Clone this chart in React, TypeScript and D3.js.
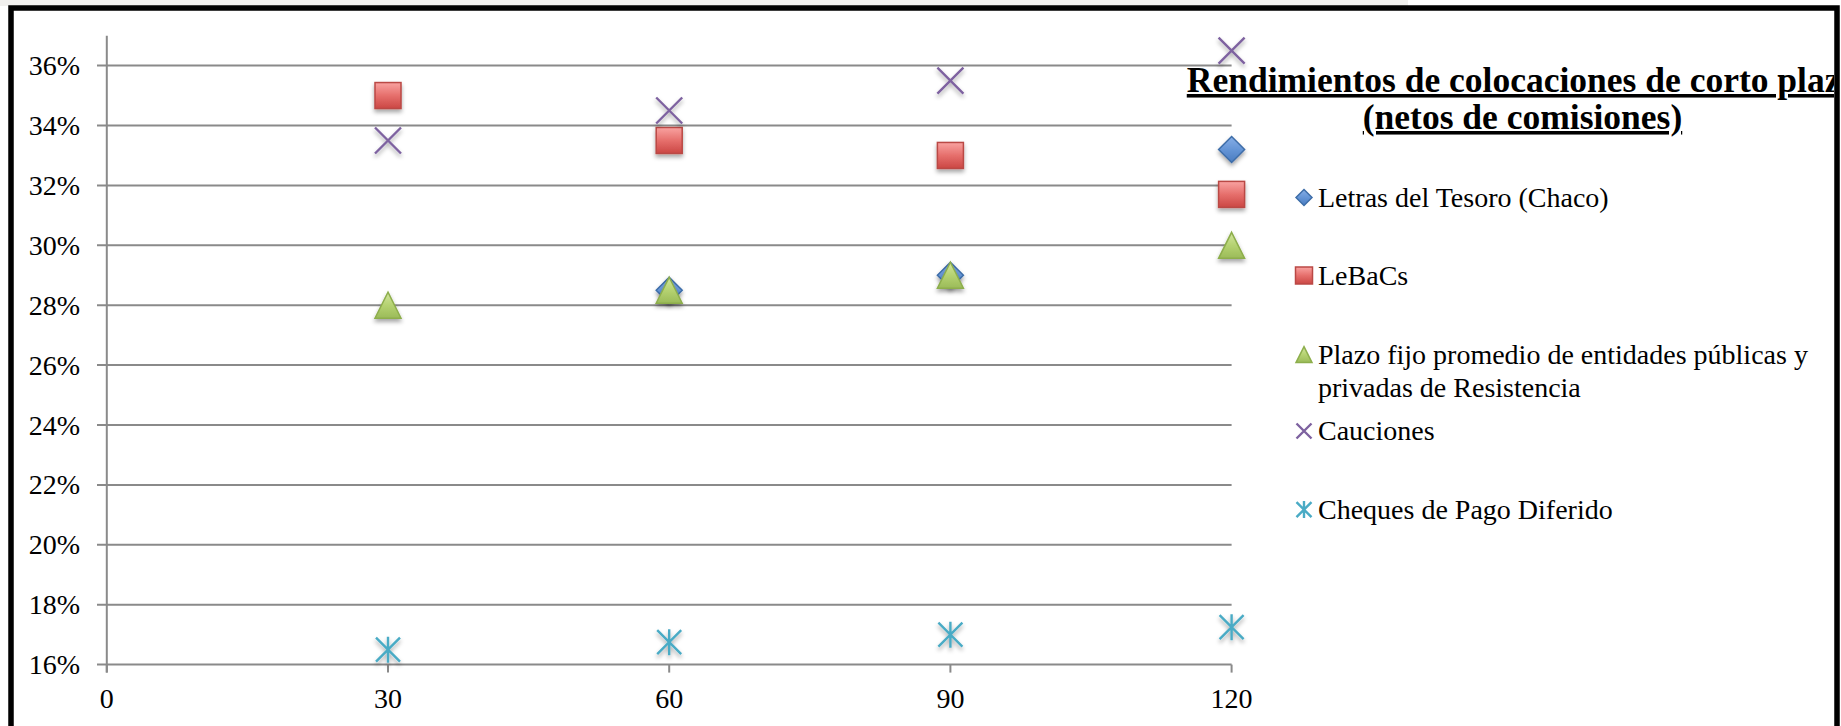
import React from "react";
import * as d3 from "d3";

const days = [30, 60, 90, 120];
const letras: (number | null)[] = [null, 0.285, 0.29, 0.332];
const lebacs = [0.35, 0.335, 0.33, 0.317];
const plazoFijo = [0.28, 0.285, 0.29, 0.3];
const cauciones = [0.335, 0.345, 0.355, 0.365];
const cheques = [0.165, 0.1675, 0.17, 0.1725];

const yTicks = [0.16, 0.18, 0.2, 0.22, 0.24, 0.26, 0.28, 0.3, 0.32, 0.34, 0.36];
const xTicks = [0, 30, 60, 90, 120];
const titleLines = ["Rendimientos de colocaciones de corto plazo", "(netos de comisiones)"];
const legendLabels = [
  ["Letras del Tesoro (Chaco)"],
  ["LeBaCs"],
  ["Plazo fijo promedio de entidades públicas y", "privadas de Resistencia"],
  ["Cauciones"],
  ["Cheques de Pago Diferido"],
];

const W = 1841;
const H = 726;
const FONT = "'Liberation Serif', 'Times New Roman', serif";

type Kind = "diamond" | "square" | "triangle" | "x" | "star";

function Marker({ kind, cx, cy, s, shadow }: { kind: Kind; cx: number; cy: number; s: number; shadow?: boolean }) {
  const h = s / 2;
  const f = shadow ? "url(#shadow)" : undefined;
  if (kind === "diamond") {
    return (
      <path
        d={`M${cx},${cy - h}L${cx + h},${cy}L${cx},${cy + h}L${cx - h},${cy}Z`}
        fill="url(#gBlue)"
        stroke="#3D6DA8"
        strokeWidth={1.5}
        filter={f}
      />
    );
  }
  if (kind === "square") {
    return (
      <rect
        x={cx - h}
        y={cy - h}
        width={s}
        height={s}
        fill="url(#gRed)"
        stroke="#BA4845"
        strokeWidth={1.5}
        filter={f}
      />
    );
  }
  if (kind === "triangle") {
    return (
      <path
        d={`M${cx},${cy - h}L${cx + h},${cy + h}L${cx - h},${cy + h}Z`}
        fill="url(#gGreen)"
        stroke="#8DAE4C"
        strokeWidth={1.5}
        filter={f}
      />
    );
  }
  if (kind === "x") {
    return (
      <path
        d={`M${cx - h},${cy - h}L${cx + h},${cy + h}M${cx + h},${cy - h}L${cx - h},${cy + h}`}
        stroke="#7E62A0"
        strokeWidth={2.4}
        fill="none"
        filter={f}
      />
    );
  }
  return (
    <path
      d={`M${cx - h},${cy - h}L${cx + h},${cy + h}M${cx + h},${cy - h}L${cx - h},${cy + h}M${cx},${cy - h - 1}L${cx},${cy + h + 1}`}
      stroke="#4AABC5"
      strokeWidth={2.4}
      fill="none"
      filter={f}
    />
  );
}

export default function App() {
  const x = d3.scaleLinear().domain([0, 120]).range([106.8, 1231.6]);
  const y = d3.scaleLinear().domain([0.16, 0.37]).range([664.6, 664.6 - 21 * 29.95]);
  const fmt = d3.format(".0%");

  const series: { kind: Kind; values: (number | null)[]; size: number; lsize: number }[] = [
    { kind: "diamond", values: letras, size: 26, lsize: 16 },
    { kind: "square", values: lebacs, size: 26, lsize: 17 },
    { kind: "triangle", values: plazoFijo, size: 26, lsize: 16 },
    { kind: "x", values: cauciones, size: 26, lsize: 15 },
    { kind: "star", values: cheques, size: 24, lsize: 15 },
  ];

  const legendY = [197.5, 275.5, 354.6, 431, 509.6];
  const legendMarkerX = 1304;
  const legendTextX = 1318;

  const gridColor = "#8A8A8A";
  const x0 = x(0);
  const x1 = x(120);
  const yb = y(0.16);

  return (
    <svg
      width={W}
      height={H}
      viewBox={`0 0 ${W} ${H}`}
      style={{ position: "absolute", left: 0, top: 0, display: "block", background: "#fff" }}
    >
      <defs>
        <linearGradient id="gRed" x1="0" y1="0" x2="0" y2="1">
          <stop offset="0" stopColor="#F9A3A1" />
          <stop offset="0.5" stopColor="#E66F6C" />
          <stop offset="1" stopColor="#CB4744" />
        </linearGradient>
        <linearGradient id="gGreen" x1="0" y1="0" x2="0" y2="1">
          <stop offset="0" stopColor="#D3E6A0" />
          <stop offset="0.5" stopColor="#B5D271" />
          <stop offset="1" stopColor="#9BBB59" />
        </linearGradient>
        <linearGradient id="gBlue" x1="0" y1="0" x2="0" y2="1">
          <stop offset="0" stopColor="#86AEE6" />
          <stop offset="0.5" stopColor="#6595D6" />
          <stop offset="1" stopColor="#4A7CC0" />
        </linearGradient>
        <filter id="shadow" x="-50%" y="-50%" width="200%" height="200%">
          <feDropShadow dx="0" dy="3" stdDeviation="2" floodColor="#000" floodOpacity="0.35" />
        </filter>
        <clipPath id="chartClip">
          <rect x={14} y={10} width={1820} height={716} />
        </clipPath>
      </defs>

      {/* top background strip */}
      <rect x={0} y={0} width={1408} height={6} fill="#F1F0EE" />

      {/* gridlines */}
      {yTicks.map((t) => (
        <line key={t} x1={97} x2={x1} y1={y(t)} y2={y(t)} stroke={gridColor} strokeWidth={2} />
      ))}
      {/* y axis */}
      <line x1={x0} x2={x0} y1={y(0.37)} y2={yb + 8} stroke={gridColor} strokeWidth={2} />
      {/* x ticks */}
      {xTicks.map((t) => (
        <line key={t} x1={x(t)} x2={x(t)} y1={yb} y2={yb + 8} stroke={gridColor} strokeWidth={2} />
      ))}

      {/* y labels */}
      {yTicks.map((t) => (
        <text key={t} x={80} y={y(t) + 9.5} textAnchor="end" fontFamily={FONT} fontSize={28} fill="#000">
          {fmt(t)}
        </text>
      ))}
      {/* x labels */}
      {xTicks.map((t) => (
        <text key={t} x={x(t)} y={708} textAnchor="middle" fontFamily={FONT} fontSize={28} fill="#000">
          {t}
        </text>
      ))}

      {/* points */}
      {series.map((s) =>
        s.values.map((v, i) =>
          v == null ? null : (
            <Marker key={s.kind + i} kind={s.kind} cx={x(days[i])} cy={y(v)} s={s.size} shadow />
          )
        )
      )}

      {/* title */}
      <g clipPath="url(#chartClip)">
        {titleLines.map((t, i) => (
          <text
            key={t}
            x={1522.5}
            y={92 + i * 37}
            textAnchor="middle"
            fontFamily={FONT}
            fontWeight="bold"
            fontSize={35.5}
            textDecoration="underline"
            fill="#000"
          >
            {t}
          </text>
        ))}
      </g>

      {/* legend */}
      {series.map((s, i) => (
        <g key={s.kind}>
          <Marker kind={s.kind} cx={legendMarkerX} cy={legendY[i]} s={s.lsize} />
          {legendLabels[i].map((line, j) => (
            <text
              key={line}
              x={legendTextX}
              y={legendY[i] + 9 + j * 33}
              fontFamily={FONT}
              fontSize={28}
              fill="#000"
            >
              {line}
            </text>
          ))}
        </g>
      ))}

      {/* outer border (left, top, right) */}
      <path d={`M11,${H + 5}L11,8L1837,8L1837,${H + 5}`} fill="none" stroke="#000" strokeWidth={5.5} />
    </svg>
  );
}
